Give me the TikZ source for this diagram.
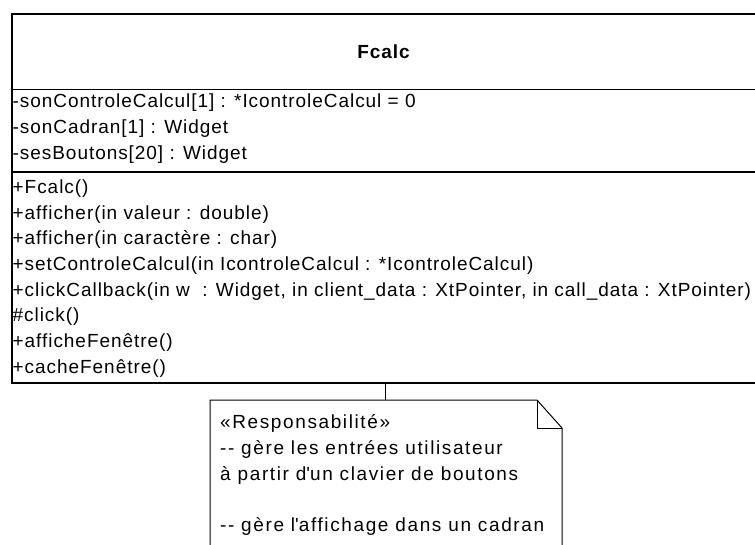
\documentclass[tikz,border=0pt]{standalone}
\usepackage{fontspec}
\setmainfont{Liberation Sans}[LetterSpace=5]
\newfontfamily\notefont{Liberation Sans}[LetterSpace=8.5]
\newcommand*\dashpair{-\kern1.5pt-}
\begin{document}
\begin{tikzpicture}[x=1pt,y=-1pt,
  frame/.style={draw=black, line width=1.6pt},
  thin/.style={draw=black, line width=1pt},
  txt/.style={anchor=base west, inner sep=0pt, font=\fontsize{19}{19}\selectfont},
  notetxt/.style={anchor=base west, inner sep=0pt, font=\notefont\fontsize{19}{19}\selectfont},
  title/.style={inner sep=0pt, font=\bfseries\fontsize{19}{19}\selectfont},
]
\useasboundingbox (0,0) rectangle (755,545);
\fill[white] (0,0) rectangle (755,545);

% class Fcalc: outer box and compartment separators
\node[frame, anchor=north west, minimum width=746pt, minimum height=369pt, inner sep=0pt] (cls) at (11,13) {};
\coordinate (sepA) at (11,89.5);
\coordinate (sepB) at (11,172);
\draw[frame] (sepA) -- ++(746,0);
\draw[frame] (sepB) -- ++(746,0);

\node[title] (clsname) at (383.5,51.5) {Fcalc};

% attributes
\node[txt] (a1) at (12.5,108) {-sonControleCalcul[1] : *IcontroleCalcul = 0};
\node[txt] (a2) at (12.5,134) {-sonCadran[1] : Widget};
\node[txt] (a3) at (12.5,160) {-sesBoutons[20] : Widget};

% operations
\node[txt] (m1) at (12.5,193.5) {+Fcalc()};
\node[txt] (m2) at (12.5,219.2) {+afficher(in valeur : double)};
\node[txt] (m3) at (12.5,244.9) {+afficher(in caractère : char)};
\node[txt] (m4) at (12.5,270.6) {+setControleCalcul(in IcontroleCalcul : *IcontroleCalcul)};
\node[txt] (m5) at (12.5,296.3) {+clickCallback(in w\ \ : Widget, in client\_data : XtPointer, in call\_data : XtPointer)};
\node[txt] (m6) at (12.5,322.0) {\#click()};
\node[txt] (m7) at (12.5,347.7) {+afficheFenêtre()};
\node[txt] (m8) at (12.5,373.4) {+cacheFenêtre()};

% note with folded corner
\coordinate (noteNW) at (210,400);
\coordinate (foldA) at (537,400);
\coordinate (foldB) at (562,428);
\coordinate (noteSW) at (210,560);
\coordinate (noteSE) at (562,560);
\draw[thin] (noteSW) -- (noteNW) -- (foldA) -- (foldB) -- (noteSE);
\draw[thin] (foldA) -- (foldA |- foldB) -- (foldB);

\node[notetxt] (n1) at (220,428) {«Responsabilité»};
\node[notetxt] (n2) at (220,454) {\dashpair{} gère les entrées utilisateur};
\node[notetxt] (n3) at (220,480) {à partir d\textquotesingle un clavier de boutons};
\node[notetxt] (n4) at (220,531) {\dashpair{} gère l\textquotesingle affichage dans un cadran};

% anchor line from the class to its note
\coordinate (linkTop) at (385.5,382);
\coordinate (linkEnd) at (385.5,400);
\draw[black, line width=1.2pt] (linkTop) -- (linkEnd);
\end{tikzpicture}
\end{document}
